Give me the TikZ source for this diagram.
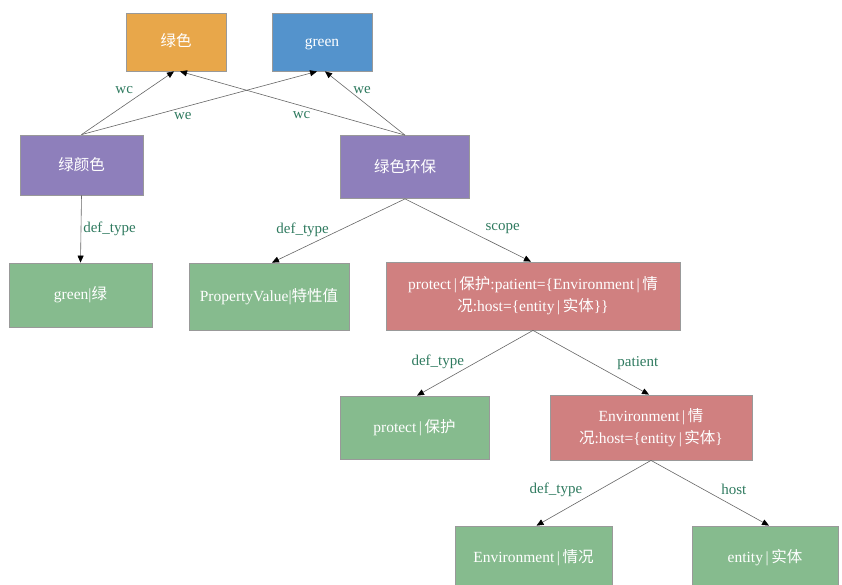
\documentclass[tikz,border=0pt]{standalone}
\usepackage{fontspec}
\setmainfont{Liberation Serif}
\newfontfamily\cjk{Noto Sans CJK SC}
\newcommand{\zh}[1]{{\cjk #1}}
\usetikzlibrary{arrows.meta}
\definecolor{wordorange}{HTML}{E8A74A}
\definecolor{wordblue}{HTML}{5493CC}
\definecolor{sensepurple}{HTML}{8E7FBB}
\definecolor{defgreen}{HTML}{86BB8E}
\definecolor{structred}{HTML}{D08080}
\definecolor{relgreen}{HTML}{2F7A5F}
\tikzset{
  box/.style={draw=gray!80, line width=0.8pt, text=white, inner sep=0pt, align=center,
    font=\fontsize{15.5}{22}\selectfont},
  word/.style={box, minimum width=100pt, minimum height=58pt, text height=11pt, text depth=2pt},
  sense/.style={box, fill=sensepurple},
  concept/.style={box, fill=defgreen},
  struct/.style={box, fill=structred},
  rel/.style={draw=gray!80!black, line width=0.6pt, -{Triangle[length=7pt,width=6pt,color=black]}},
  lbl/.style={text=relgreen, inner sep=1pt, font=\fontsize{15}{16}\selectfont},
}
\begin{document}
\begin{tikzpicture}[x=1pt,y=-1pt]
  \useasboundingbox (0,0) rectangle (842,584);
  \node[word, fill=wordorange] (lvse) at (176,42) {\zh{绿色}};
  \node[word, fill=wordblue] (green) at (322,42) {green};
  \node[sense, minimum width=123pt, minimum height=60pt] (lvyanse) at (81.5,165) {\zh{绿颜色}};
  \node[sense, minimum width=129pt, minimum height=63pt] (huanbao) at (405,167) {\zh{绿色环保}};
  \node[concept, minimum width=143pt, minimum height=64pt] (greenlv) at (80.5,295) {green|\zh{绿}};
  \node[concept, minimum width=160pt, minimum height=67pt] (propval) at (269,296.5) {PropertyValue|\zh{特性值}};
  \node[struct, minimum width=294pt, minimum height=68pt] (protectdef) at (533,296)
    {protect\,|\,\zh{保护}:patient=\{Environment\,|\,\zh{情}\\\zh{况}:host=\{entity\,|\,\zh{实体}\}\}};
  \node[concept, minimum width=149pt, minimum height=63pt] (protect) at (414.5,427.5) {protect\,|\,\zh{保护}};
  \node[struct, minimum width=202pt, minimum height=65pt] (envdef) at (651,427.5)
    {Environment\,|\,\zh{情}\\\zh{况}:host=\{entity\,|\,\zh{实体}\}};
  \node[concept, minimum width=157pt, minimum height=64pt] (env) at (533.5,558) {Environment\,|\,\zh{情况}};
  \node[concept, minimum width=146pt, minimum height=64pt] (entity) at (765,558) {entity\,|\,\zh{实体}};
  \draw[rel] (lvyanse.north) -- ([xshift=-2pt]lvse.south) node[lbl, pos=0.7, left=12pt] {wc};
  \draw[rel] (lvyanse.north) -- ([xshift=-5pt]green.south) node[lbl, pos=0.43, below=4pt] {we};
  \draw[rel] (huanbao.north) -- ([xshift=4pt]lvse.south) node[lbl, pos=0.46, below=4pt] {wc};
  \draw[rel] (huanbao.north) -- ([xshift=3pt]green.south) node[lbl, pos=0.7, right=3pt] {we};
  \draw[rel] (lvyanse.south) -- (greenlv.north) node[lbl, pos=0.5, right=1pt] {def\_type};
  \draw[rel] (huanbao.south) -- ([xshift=3pt]propval.north) node[lbl, pos=0.48, left=11pt] {def\_type};
  \draw[rel] (huanbao.south) -- ([xshift=-2pt]protectdef.north) node[lbl, pos=0.47, right=20pt] {scope};
  \draw[rel] (protectdef.south) -- ([xshift=2.5pt]protect.north) node[lbl, pos=0.48, left=12pt] {def\_type};
  \draw[rel] (protectdef.south) -- ([xshift=-2pt]envdef.north) node[lbl, pos=0.51, right=24pt] {patient};
  \draw[rel] (envdef.south) -- ([xshift=3pt]env.north) node[lbl, pos=0.45, left=16pt] {def\_type};
  \draw[rel] (envdef.south) -- ([xshift=4pt]entity.north) node[lbl, pos=0.45, right=16pt] {host};
\end{tikzpicture}
\end{document}
